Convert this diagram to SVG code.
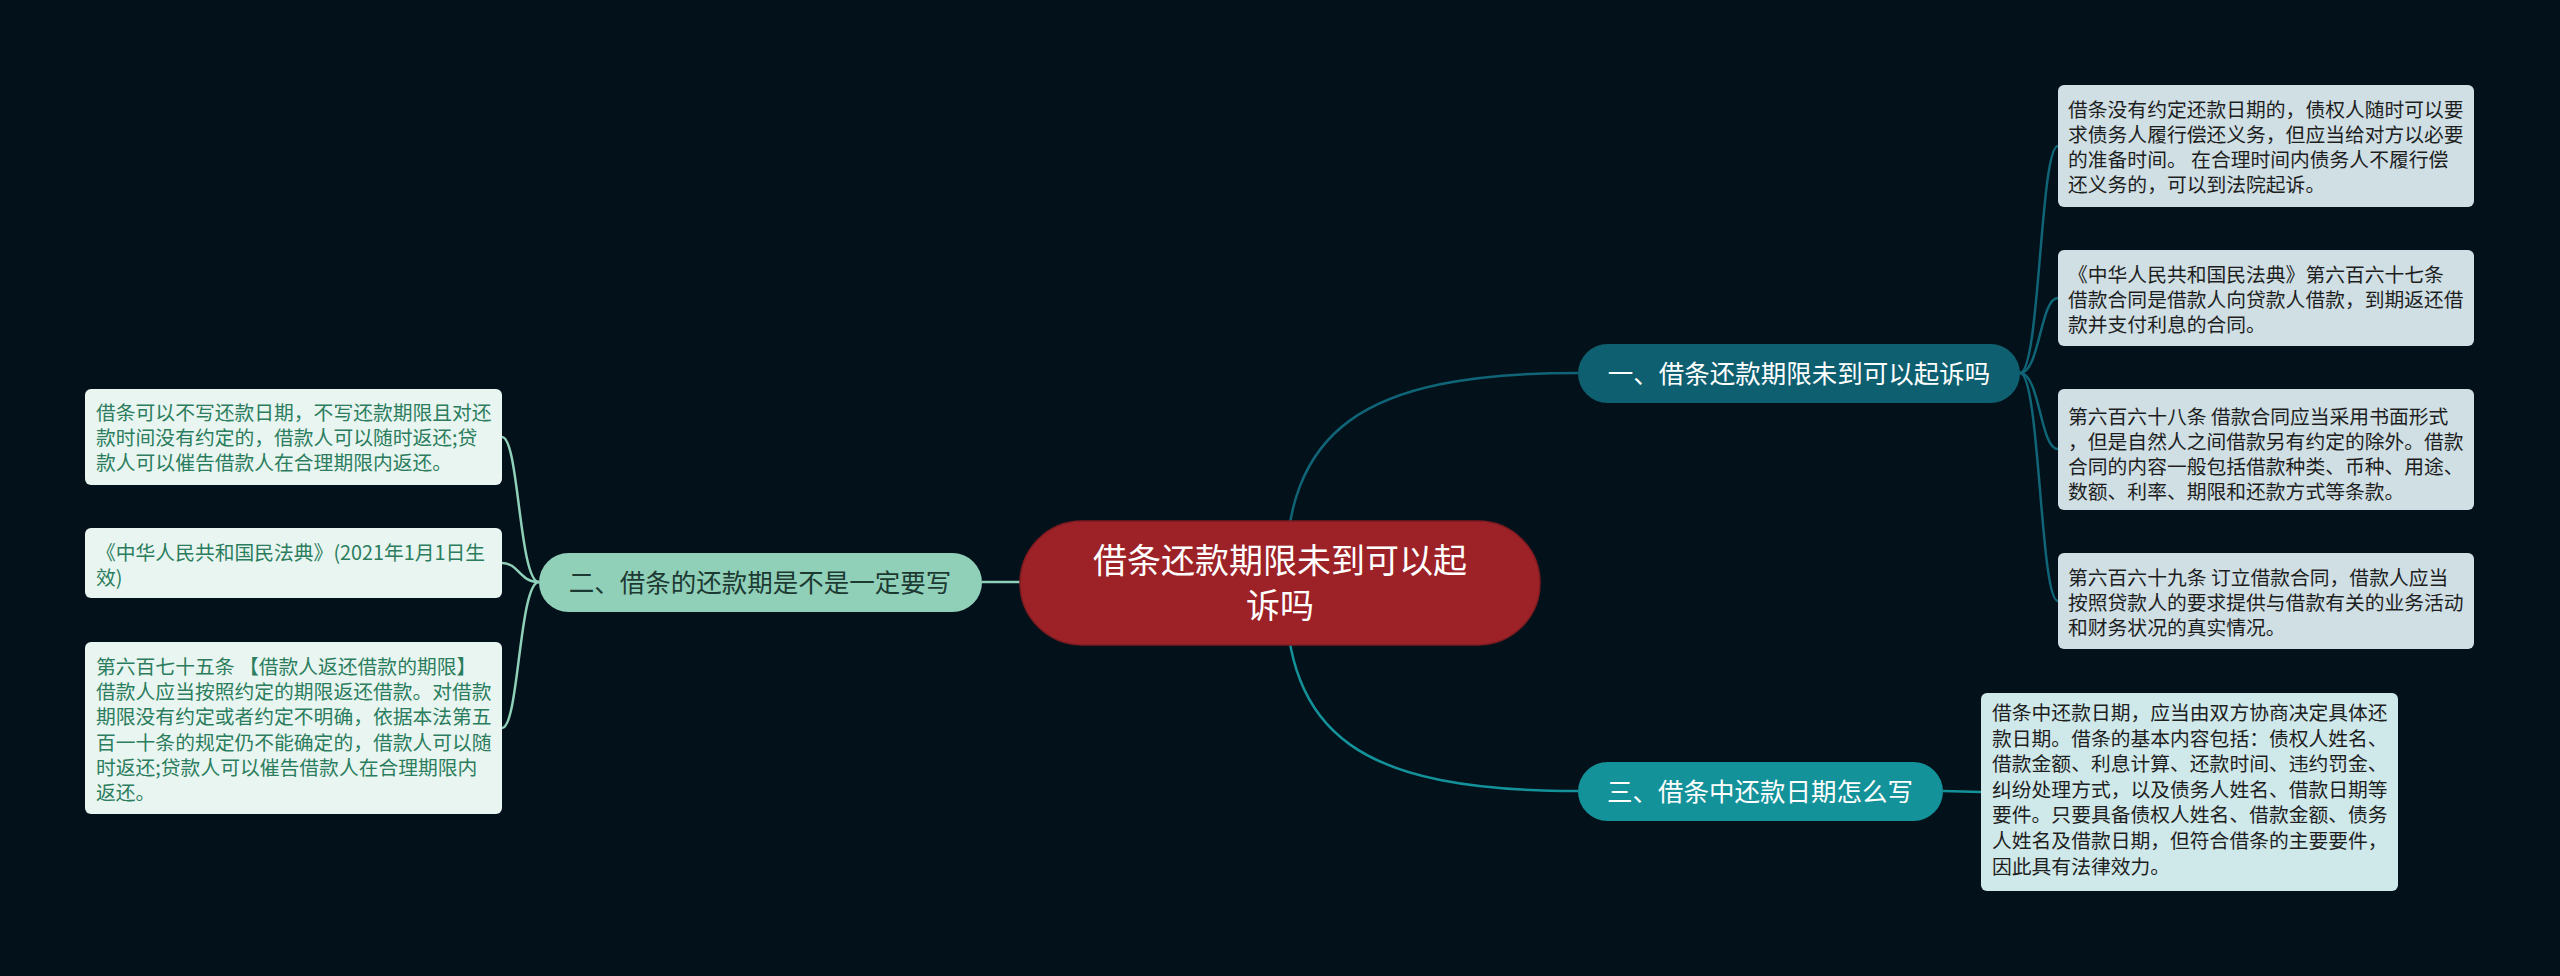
<svg xmlns="http://www.w3.org/2000/svg" width="2560" height="976" viewBox="0 0 2560 976">
<style>
text{font-family:"Noto Sans CJK SC","Noto Sans",sans-serif}
.c1{fill:none;stroke:#0f6577;stroke-width:2.5}
.c2{fill:none;stroke:#8fd0b8;stroke-width:2.5}
.c3{fill:none;stroke:#13929a;stroke-width:2.5}
.lf{font-size:19.8px;fill:#1e1e1e}
.lg{font-size:19.8px;fill:#2b7d5e}
.br{font-size:25.5px;text-anchor:middle}
</style>
<rect width="2560" height="976" fill="#03111a"/>
<g id="connectors">
<path class="c1" d="M1285 583 C1285 430 1360 373 1578 373"/>
<path class="c3" d="M1285 583 C1285 736 1360 791 1578 791"/>
<path class="c2" d="M982 582 L1100 582"/>
<path class="c1" d="M2020 373 C2040 373 2040 146 2058 146"/>
<path class="c1" d="M2020 373 C2040 373 2040 298 2058 298"/>
<path class="c1" d="M2020 373 C2040 373 2040 449 2058 449"/>
<path class="c1" d="M2020 373 C2040 373 2040 601 2058 601"/>
<path class="c2" d="M539 582 C519 582 519 437 502 437"/>
<path class="c2" d="M539 582 C519 582 519 563 502 563"/>
<path class="c2" d="M539 582 C519 582 519 728 502 728"/>
<path class="c3" d="M1943 791 L1981 792"/>
</g>
<g id="root">
<rect x="1020" y="521" width="520" height="124" rx="62" fill="#9d2228" stroke="#7e1b21" stroke-width="1.5"/>
<text x="1280" y="573" font-size="34" fill="#ffffff" text-anchor="middle">借条还款期限未到可以起</text>
<text x="1280" y="618" font-size="34" fill="#ffffff" text-anchor="middle">诉吗</text>
</g>
<g id="branch1">
<rect x="1578" y="344" width="442" height="59" rx="29.5" fill="#0e5f70"/>
<text class="br" x="1799" y="383" fill="#ffffff">一、借条还款期限未到可以起诉吗</text>
</g>
<g id="branch2">
<rect x="539" y="553" width="443" height="59" rx="29.5" fill="#90d0b9"/>
<text class="br" x="760" y="592" fill="#1d3a32">二、借条的还款期是不是一定要写</text>
</g>
<g id="branch3">
<rect x="1578" y="762" width="365" height="59" rx="29.5" fill="#13929a"/>
<text class="br" x="1760" y="801" fill="#ffffff">三、借条中还款日期怎么写</text>
</g>
<g id="leaf1">
<rect x="2058" y="85" width="416" height="122" rx="6" fill="#cfdfe4"/>
<text class="lf" x="2068" y="117">借条没有约定还款日期的，债权人随时可以要<tspan x="2068" dy="25">求债务人履行偿还义务，但应当给对方以必要</tspan><tspan x="2068" dy="25">的准备时间。 在合理时间内债务人不履行偿</tspan><tspan x="2068" dy="25">还义务的，可以到法院起诉。</tspan></text>
</g>
<g id="leaf2">
<rect x="2058" y="250" width="416" height="96" rx="6" fill="#cfdfe4"/>
<text class="lf" x="2068" y="282">《中华人民共和国民法典》第六百六十七条<tspan x="2068" dy="25">借款合同是借款人向贷款人借款，到期返还借</tspan><tspan x="2068" dy="25">款并支付利息的合同。</tspan></text>
</g>
<g id="leaf3">
<rect x="2058" y="389" width="416" height="121" rx="6" fill="#cfdfe4"/>
<text class="lf" x="2068" y="424">第六百六十八条 借款合同应当采用书面形式<tspan x="2068" dy="25">，但是自然人之间借款另有约定的除外。借款</tspan><tspan x="2068" dy="25">合同的内容一般包括借款种类、币种、用途、</tspan><tspan x="2068" dy="25">数额、利率、期限和还款方式等条款。</tspan></text>
</g>
<g id="leaf4">
<rect x="2058" y="553" width="416" height="96" rx="6" fill="#cfdfe4"/>
<text class="lf" x="2068" y="585">第六百六十九条 订立借款合同，借款人应当<tspan x="2068" dy="25">按照贷款人的要求提供与借款有关的业务活动</tspan><tspan x="2068" dy="25">和财务状况的真实情况。</tspan></text>
</g>
<g id="leaf5">
<rect x="1981" y="693" width="417" height="198" rx="6" fill="#cfe8e9"/>
<text class="lf" x="1992" y="720">借条中还款日期，应当由双方协商决定具体还<tspan x="1992" dy="25.6">款日期。借条的基本内容包括：债权人姓名、</tspan><tspan x="1992" dy="25.6">借款金额、利息计算、还款时间、违约罚金、</tspan><tspan x="1992" dy="25.6">纠纷处理方式，以及债务人姓名、借款日期等</tspan><tspan x="1992" dy="25.6">要件。只要具备债权人姓名、借款金额、债务</tspan><tspan x="1992" dy="25.6">人姓名及借款日期，但符合借条的主要要件，</tspan><tspan x="1992" dy="25.6">因此具有法律效力。</tspan></text>
</g>
<g id="leaf6">
<rect x="85" y="389" width="417" height="96" rx="6" fill="#e9f5f0"/>
<text class="lg" x="96" y="420">借条可以不写还款日期，不写还款期限且对还<tspan x="96" dy="25">款时间没有约定的，借款人可以随时返还;贷</tspan><tspan x="96" dy="25">款人可以催告借款人在合理期限内返还。</tspan></text>
</g>
<g id="leaf7">
<rect x="85" y="528" width="417" height="70" rx="6" fill="#e9f5f0"/>
<text class="lg" x="96" y="560">《中华人民共和国民法典》(2021年1月1日生<tspan x="96" dy="25">效)</tspan></text>
</g>
<g id="leaf8">
<rect x="85" y="642" width="417" height="172" rx="6" fill="#e9f5f0"/>
<text class="lg" x="96" y="674">第六百七十五条 【借款人返还借款的期限】<tspan x="96" dy="25.2">借款人应当按照约定的期限返还借款。对借款</tspan><tspan x="96" dy="25.2">期限没有约定或者约定不明确，依据本法第五</tspan><tspan x="96" dy="25.2">百一十条的规定仍不能确定的，借款人可以随</tspan><tspan x="96" dy="25.2">时返还;贷款人可以催告借款人在合理期限内</tspan><tspan x="96" dy="25.2">返还。</tspan></text>
</g>
</svg>
